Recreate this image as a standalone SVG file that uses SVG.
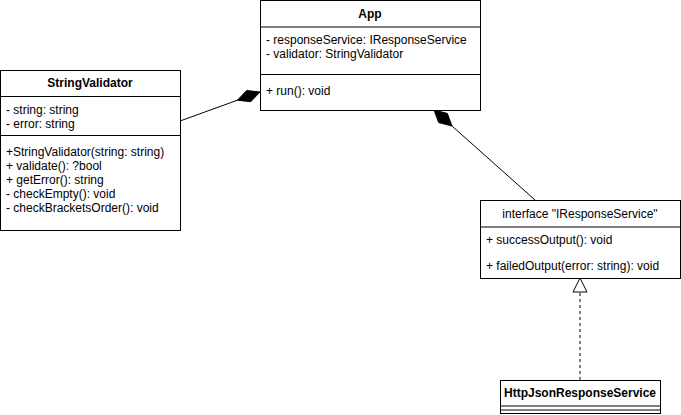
<svg xmlns="http://www.w3.org/2000/svg" width="681" height="415" viewBox="0 0 681 415">
<style>
.box{fill:#fff;stroke:#000;stroke-width:1}
.ln{stroke:#000;stroke-width:1;fill:none}
text{font-family:"Liberation Sans",Arial,sans-serif;font-size:12px;fill:#000}
.t{font-weight:bold;text-anchor:middle}
.c{text-anchor:middle}
</style>
<rect width="681" height="415" fill="#fff"/>
<g id="connectors">
<line class="ln" x1="180" y1="121" x2="238" y2="100"/>
<polygon points="260,92 246.7,90.5 237.4,100.2 250.7,101.7" fill="#000" stroke="#000"/>
<line class="ln" x1="452" y1="126" x2="535" y2="200"/>
<polygon points="434,110 447.3,113.4 452,126 438.7,122.6" fill="#000" stroke="#000"/>
<line class="ln" x1="580" y1="380" x2="580" y2="292" stroke-dasharray="3 3"/>
<polygon points="580,278 587,292 573,292" fill="#fff" stroke="#000"/>
</g>
<g id="App">
<rect class="box" x="260.5" y="0.5" width="220" height="110"/>
<line class="ln" x1="260.5" y1="27" x2="480.5" y2="27"/>
<line class="ln" x1="260.5" y1="74.5" x2="480.5" y2="74.5"/>
<text class="t" x="370" y="18">App</text>
<text x="266" y="44">- responseService: IResponseService</text>
<text x="266" y="58">- validator: StringValidator</text>
<text x="266" y="95">+ run(): void</text>
</g>
<g id="StringValidator">
<rect class="box" x="0.5" y="70.5" width="180" height="160"/>
<line class="ln" x1="0.5" y1="96.5" x2="180.5" y2="96.5"/>
<line class="ln" x1="0.5" y1="135.5" x2="180.5" y2="135.5"/>
<text class="t" x="90" y="87">StringValidator</text>
<text x="6" y="114">- string: string</text>
<text x="6" y="128">- error: string</text>
<text x="6" y="156">+StringValidator(string: string)</text>
<text x="6" y="170">+ validate(): ?bool</text>
<text x="6" y="184">+ getError(): string</text>
<text x="6" y="198">- checkEmpty(): void</text>
<text x="6" y="212">- checkBracketsOrder(): void</text>
</g>
<g id="IResponseService">
<rect class="box" x="480.5" y="200.5" width="200" height="78"/>
<line class="ln" x1="480.5" y1="227" x2="680.5" y2="227"/>
<text class="c" x="580" y="218">interface "IResponseService"</text>
<text x="486" y="244">+ successOutput(): void</text>
<text x="486" y="270">+ failedOutput(error: string): void</text>
</g>
<g id="HttpJsonResponseService">
<rect class="box" x="500.5" y="380.5" width="160" height="33"/>
<line class="ln" x1="500.5" y1="406" x2="660.5" y2="406"/>
<line class="ln" x1="500.5" y1="410" x2="660.5" y2="410"/>
<text class="t" x="580" y="397">HttpJsonResponseService</text>
</g>
</svg>
